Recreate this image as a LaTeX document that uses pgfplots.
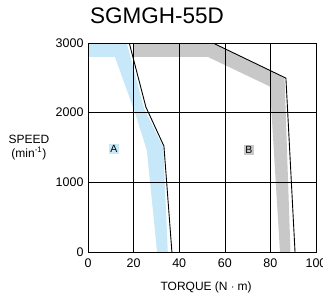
\documentclass[border=0pt]{standalone}
\usepackage{fontspec}
\setmainfont{Liberation Sans}
\usepackage{pgfplots}
\pgfplotsset{compat=1.18}
\definecolor{bandA}{RGB}{198,232,248}
\definecolor{bandB}{RGB}{200,200,200}
\begin{document}
\begin{tikzpicture}
\begin{axis}[
  scale only axis, width=228pt, height=209pt,
  at={(0,0)}, anchor=south west,
  xmin=0, xmax=100, ymin=0, ymax=3000,
  xtick={0,20,40,60,80,100}, ytick={0,1000,2000,3000},
  major tick length=0pt,
  grid=major, major grid style={black, line width=0.6pt},
  axis line style={black, line width=0.8pt},
  axis on top,
  /pgf/number format/1000 sep={},
  /pgf/number format/assume math mode=true,
  tick label style={font=\fontsize{12.5}{14}\selectfont},
  xticklabel style={yshift=-3pt},
  yticklabel style={xshift=-1pt},
  title={SGMGH-55D},
  title style={font=\fontsize{22.5}{26}\selectfont, at={(axis description cs:0.303,1.10)}, anchor=center},
  xlabel={TORQUE (N $\cdot$ m)},
  xlabel style={font=\fontsize{12}{14}\selectfont, at={(axis description cs:0.518,-0.167)}, anchor=center},
  ylabel={SPEED\\(min\textsuperscript{-1})},
  ylabel style={font=\fontsize{12}{14}\selectfont, rotate=-90, align=center, at={(axis description cs:-0.259,0.502)}, anchor=center},
]
\addplot[fill=bandA, draw=none] coordinates {(0,3000) (17,3000) (24.6,2060) (33,1500) (35,0) (30.3,0) (25.8,1460) (20.6,2000) (11.8,2800) (0,2800)} -- cycle;
\addplot[fill=bandB, draw=none] coordinates {(19.8,3000) (54.8,3000) (86.2,2500) (88.8,0) (84.2,0) (79.8,2375) (52.6,2800) (19.8,2800)} -- cycle;
\addplot[black, line width=0.9pt] coordinates {(18.1,3000) (25.4,2080) (33.3,1520) (36.8,0)};
\addplot[black, line width=0.9pt] coordinates {(54.8,3000) (86.8,2496) (90.8,0)};
\node[fill=bandA, inner sep=1.5pt, font=\fontsize{10.5}{12}\selectfont] at (axis cs:11.4,1480) {A};
\node[fill=bandB, inner sep=1.5pt, font=\fontsize{10.5}{12}\selectfont] at (axis cs:70.6,1465) {B};
\end{axis}
\pgfresetboundingbox
\path (-88pt,-45pt) rectangle (235pt,252pt);
\end{tikzpicture}
\end{document}
